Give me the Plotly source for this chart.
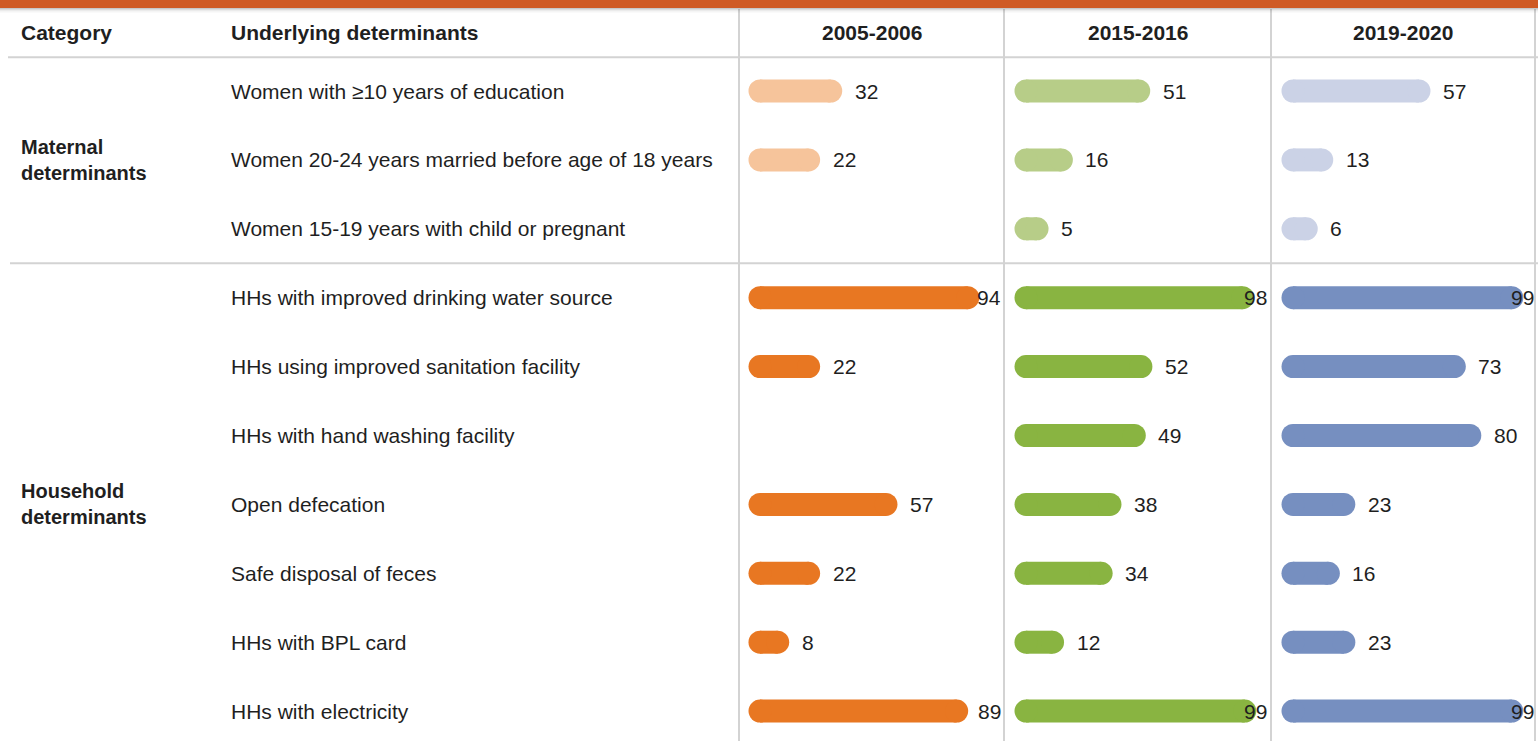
import plotly.graph_objects as go

# ---------------- data ----------------
periods = ["2005-2006", "2015-2016", "2019-2020"]
indicators = [
    "Women with ≥10 years of education",
    "Women 20-24 years married before age of 18 years",
    "Women 15-19 years with child or pregnant",
    "HHs with improved drinking water source",
    "HHs using improved sanitation facility",
    "HHs with hand washing facility",
    "Open defecation",
    "Safe disposal of feces",
    "HHs with BPL card",
    "HHs with electricity",
]
groups = ["Maternal", "Maternal", "Maternal",
          "Household", "Household", "Household", "Household",
          "Household", "Household", "Household"]
group_labels = {"Maternal": "Maternal<br>determinants",
                "Household": "Household<br>determinants"}
v2005 = [32, 22, None, 94, 22, None, 57, 22, 8, 89]
v2015 = [51, 16, 5, 98, 52, 49, 38, 34, 12, 99]
v2019 = [57, 13, 6, 99, 73, 80, 23, 16, 23, 99]
values = [v2005, v2015, v2019]

# ---------------- style ----------------
W, H = 1538, 741
FONT = "Liberation Sans, Arial, sans-serif"
TXT = "#1f1f1f"
GRID = "#d3d3d3"
BAND = "#cf5a24"
dark = ["#e87722", "#89b441", "#768fc0"]
light = ["#f6c49b", "#b7cd88", "#cbd2e6"]
FS = 21
BAR_W = 23

row0_px, row_step = 91.0, 68.9          # pixel centre of first row, row pitch
col_edges = [739, 1004, 1271, 1535]     # vertical separators (px)
zero_px = [760, 1026, 1293]             # pixel of value 0 in each column
scale = 2.21                            # px per unit
label_limit = 109                       # right limit of value labels (data units)

def py(p):  # pixel row -> data y
    return (p - row0_px) / row_step

fig = go.Figure()

axis_names = ["x", "x2", "x3"]
layout_axes = {}
for c in range(3):
    lo = (col_edges[c] - zero_px[c]) / scale
    hi = (col_edges[c + 1] - zero_px[c]) / scale
    key = "xaxis" if c == 0 else f"xaxis{c+1}"
    layout_axes[key] = dict(domain=[col_edges[c] / W, col_edges[c + 1] / W],
                            range=[lo, hi], visible=False, fixedrange=True,
                            anchor="y")

# bars: one trace per column and per group
for c in range(3):
    for grp, col in (("Maternal", light[c]), ("Household", dark[c])):
        xs, ys = [], []
        for i, v in enumerate(values[c]):
            if groups[i] != grp or v is None:
                continue
            xs += [0, v, None]
            ys += [i, i, None]
        fig.add_trace(go.Scatter(
            x=xs, y=ys, mode="lines+markers",
            line=dict(color=col, width=BAR_W),
            marker=dict(color=col, size=BAR_W, symbol="circle", line=dict(width=0)),
            xaxis=axis_names[c], yaxis="y", hoverinfo="skip", showlegend=False))

annotations = []
# value labels
for c in range(3):
    for i, v in enumerate(values[c]):
        if v is None:
            continue
        txt = str(v)
        wtxt = len(txt) * 0.556 * FS / scale
        gap = 24 / scale
        if v + gap + wtxt > label_limit:
            annotations.append(dict(x=label_limit, y=i, xref=axis_names[c], yref="y",
                                    text=txt, showarrow=False, xanchor="right",
                                    yanchor="middle", font=dict(size=FS, color=TXT, family=FONT),
                                    borderpad=0, borderwidth=0))
        else:
            annotations.append(dict(x=v + gap, y=i, xref=axis_names[c], yref="y",
                                    text=txt, showarrow=False, xanchor="left",
                                    yanchor="middle", font=dict(size=FS, color=TXT, family=FONT),
                                    borderpad=0, borderwidth=0))

# header texts
hdr_y = py(32)
annotations.append(dict(x=20 / W, y=hdr_y, xref="paper", yref="y", text="<b>Category</b>",
                        showarrow=False, xanchor="left", yanchor="middle",
                        font=dict(size=FS, color=TXT, family=FONT), borderpad=0))
annotations.append(dict(x=230 / W, y=hdr_y, xref="paper", yref="y",
                        text="<b>Underlying determinants</b>",
                        showarrow=False, xanchor="left", yanchor="middle",
                        font=dict(size=FS, color=TXT, family=FONT), borderpad=0))
for c, p in enumerate(periods):
    annotations.append(dict(x=(col_edges[c] + col_edges[c + 1]) / 2 / W, y=hdr_y,
                            xref="paper", yref="y", text=f"<b>{p}</b>",
                            showarrow=False, xanchor="center", yanchor="middle",
                            font=dict(size=FS, color=TXT, family=FONT), borderpad=0))

# row labels
for i, lab in enumerate(indicators):
    annotations.append(dict(x=230 / W, y=i, xref="paper", yref="y", text=lab,
                            showarrow=False, xanchor="left", yanchor="middle",
                            font=dict(size=FS, color=TXT, family=FONT), borderpad=0))

# group labels (centred on their rows)
for grp in ("Maternal", "Household"):
    idx = [i for i, g in enumerate(groups) if g == grp]
    centre = (idx[0] + idx[-1]) / 2
    annotations.append(dict(x=20 / W, y=centre, xref="paper", yref="y",
                            text=f"<b>{group_labels[grp]}</b>", align="left",
                            showarrow=False, xanchor="left", yanchor="middle",
                            font=dict(size=FS - 1, color=TXT, family=FONT), borderpad=0))

# shapes: grid lines, top band
shapes = []
top_y = py(9)
bot_y = py(741)
for xe in col_edges:
    shapes.append(dict(type="line", xref="paper", yref="y", x0=xe / W, x1=xe / W,
                       y0=top_y, y1=bot_y, line=dict(color=GRID, width=2), layer="below"))
shapes.append(dict(type="line", xref="paper", yref="y", x0=8 / W, x1=1,
                   y0=-0.49, y1=-0.49, line=dict(color=GRID, width=2), layer="below"))
split = [i for i, g in enumerate(groups) if g == "Maternal"][-1] + 0.5
shapes.append(dict(type="line", xref="paper", yref="y", x0=10 / W, x1=1,
                   y0=split, y1=split, line=dict(color=GRID, width=2), layer="below"))
# orange band and its shadow
for k, a in enumerate([0.22, 0.14, 0.08, 0.04, 0.02]):
    shapes.append(dict(type="rect", xref="paper", yref="y", x0=0, x1=1,
                       y0=py(8 + k), y1=py(9 + k), fillcolor=f"rgba(0,0,0,{a})",
                       line=dict(width=0)))
shapes.append(dict(type="rect", xref="paper", yref="y", x0=0, x1=1,
                   y0=py(-2), y1=py(8), fillcolor=BAND, line=dict(width=0)))

fig.update_layout(
    width=W, height=H, autosize=False,
    margin=dict(l=0, r=0, t=0, b=0, pad=0),
    paper_bgcolor="white", plot_bgcolor="white",
    yaxis=dict(range=[py(H), py(0)], domain=[0, 1], visible=False, fixedrange=True),
    annotations=annotations, shapes=shapes, showlegend=False,
    **layout_axes,
)

fig.write_html("out.html", config={"displayModeBar": False},
               post_script="document.body.style.margin='0px';document.body.style.overflow='hidden';")
